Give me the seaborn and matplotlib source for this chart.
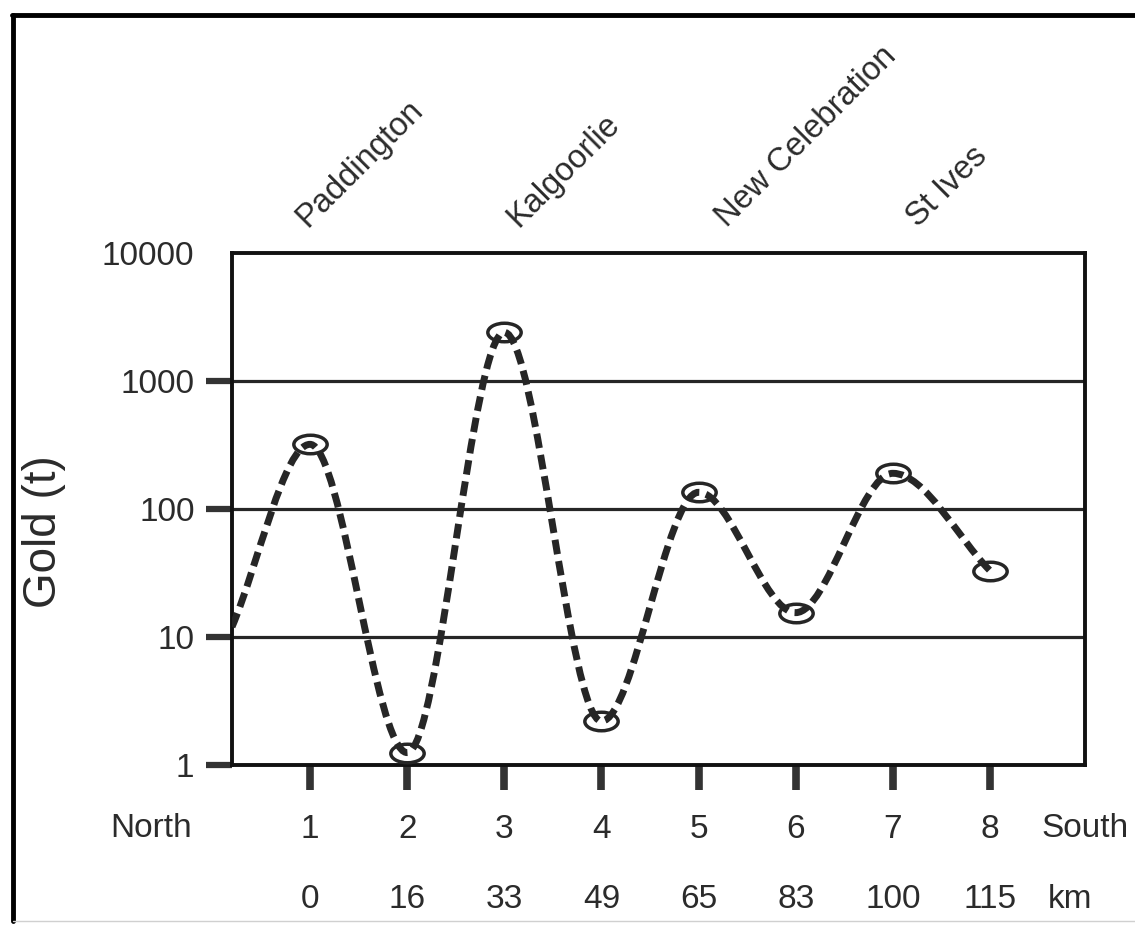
import numpy as np
import pandas as pd
import matplotlib
matplotlib.use("Agg")
import matplotlib.pyplot as plt
from matplotlib.path import Path
from matplotlib.patches import PathPatch
from matplotlib.lines import Line2D
from matplotlib.transforms import Affine2D
from matplotlib.ticker import NullLocator
import seaborn as sns

# Gold endowment of the camps along the belt, listed north to south
site_no = [1, 2, 3, 4, 5, 6, 7, 8]
distance_km = [0, 16, 33, 49, 65, 83, 100, 115]
gold_t = [320, 1.25, 2400, 2.2, 135, 15.5, 190, 33]
trend_start_gold = 12          # level where the dashed trend enters at the left edge
camp_names = ["Paddington", "Kalgoorlie", "New Celebration", "St Ives"]
camp_sites = [1, 3, 5, 7]
y_ticks = [1, 10, 100, 1000, 10000]
y_tick_labels = ["1", "10", "100", "1000", "10000"]

sns.set_theme(style="white")
plt.rcParams["font.family"] = ["Liberation Sans", "DejaVu Sans"]

INK = "#262626"
TXT = "#2b2b2b"

fig = plt.figure(figsize=(11.35, 9.25), dpi=100)
ax = fig.add_axes([232 / 1135, 160 / 925, 853 / 1135, 512 / 925])
ax.set_yscale("log")

X_LO, X_HI = 0.197, 8.978

# --- smooth dashed trend through the camps (cubic Bezier in log space) ---
xs = np.array([X_LO] + site_no, dtype=float)
ls = np.log10(np.array([trend_start_gold] + gold_t, dtype=float))
sec = np.diff(ls) / np.diff(xs)
slopes = np.zeros_like(ls)
slopes[0] = sec[0]
slopes[-1] = sec[-1]
for i in range(1, len(ls) - 1):
    if sec[i - 1] * sec[i] <= 0:
        slopes[i] = 0.0
    else:
        slopes[i] = 0.5 * (sec[i - 1] + sec[i])
verts = [(xs[0], 10 ** ls[0])]
codes = [Path.MOVETO]
for i in range(len(xs) - 1):
    h = (xs[i + 1] - xs[i]) / 3.0
    verts += [(xs[i] + h, 10 ** (ls[i] + slopes[i] * h)),
              (xs[i + 1] - h, 10 ** (ls[i + 1] - slopes[i + 1] * h)),
              (xs[i + 1], 10 ** ls[i + 1])]
    codes += [Path.CURVE4] * 3
trend = PathPatch(Path(verts, codes), facecolor="none", edgecolor=INK, lw=5.0,
                  linestyle=(0, (2.1, 1.0)), capstyle="butt", zorder=3)
ax.add_patch(trend)

# --- open elliptical markers at each camp ---
ellipse = Path.unit_circle().transformed(Affine2D().scale(1.8, 1.0))
df = pd.DataFrame({"site": site_no, "gold": gold_t})
sns.lineplot(data=df, x="site", y="gold", ax=ax, color=INK, linestyle="none",
             marker=ellipse, markersize=24, markerfacecolor="none",
             markeredgecolor=INK, markeredgewidth=2.5, zorder=4)

# --- axes styling ---
ax.set_xlim(X_LO, X_HI)
ax.set_ylim(y_ticks[0], y_ticks[-1])
ax.set_xticks(site_no)
ax.set_xticklabels([str(s) for s in site_no])
ax.set_yticks(y_ticks)
ax.set_yticklabels(y_tick_labels)
ax.yaxis.set_minor_locator(NullLocator())
ax.set_xlabel("")
ax.set_ylabel("")
ax.tick_params(axis="x", bottom=True, direction="out", length=18, width=5.5,
               pad=17, labelsize=24, color="#333333", labelcolor=TXT)
ax.tick_params(axis="y", left=True, direction="out", length=19, width=4.5,
               pad=8, labelsize=24, color="#333333", labelcolor=TXT)
# the top decade is labelled without a tick mark
ax.yaxis.get_major_ticks()[-1].tick1line.set_visible(False)
ax.grid(False)
for v in y_ticks[1:-1]:
    ax.axhline(v, color=INK, lw=2.3, zorder=2)
for s in ax.spines.values():
    s.set_visible(True)
    s.set_color("#111111")
    s.set_linewidth(2.8)

# distance row under the site numbers
for s, d in zip(site_no, distance_km):
    ax.annotate(str(d), xy=(s, 0), xycoords=("data", "axes fraction"),
                xytext=(0, -103), textcoords="offset points",
                ha="center", va="baseline", fontsize=24, color=TXT)
ax.annotate("North", xy=(0, 0), xycoords="axes fraction", xytext=(-29, -52),
            textcoords="offset points", ha="right", va="baseline",
            fontsize=24, color=TXT)
ax.annotate("South", xy=(1, 0), xycoords="axes fraction", xytext=(-31, -52),
            textcoords="offset points", ha="left", va="baseline",
            fontsize=24, color=TXT)
ax.annotate("km", xy=(1, 0), xycoords="axes fraction", xytext=(-27, -103),
            textcoords="offset points", ha="left", va="baseline",
            fontsize=24, color=TXT)

# camp names, slanted above the plot
nudge = {1: -0.03, 3: 0.15, 5: 0.29, 7: 0.26}
for name, s in zip(camp_names, camp_sites):
    ax.annotate(name, xy=(s + nudge[s], 1), xycoords=("data", "axes fraction"),
                xytext=(0, 18), textcoords="offset points", rotation=45,
                rotation_mode="anchor", ha="left", va="baseline",
                fontsize=23.5, color=TXT, annotation_clip=False)

fig.text(44 / 1135, 1 - 532 / 925, "Gold (t)", rotation=90, ha="center",
         va="center", fontsize=33, color=TXT)

# outer frame
fig.add_artist(Line2D([13 / 1135, 13 / 1135], [4 / 925, 1 - 14.5 / 925],
                      transform=fig.transFigure, color="black", lw=3.5))
fig.add_artist(Line2D([11.5 / 1135, 1.0], [1 - 14.5 / 925, 1 - 14.5 / 925],
                      transform=fig.transFigure, color="black", lw=3.5))
fig.add_artist(Line2D([13 / 1135, 1.0], [4 / 925, 4 / 925],
                      transform=fig.transFigure, color="#d0d0d0", lw=1.0))

fig.savefig("out.png", dpi=100, facecolor="white")
